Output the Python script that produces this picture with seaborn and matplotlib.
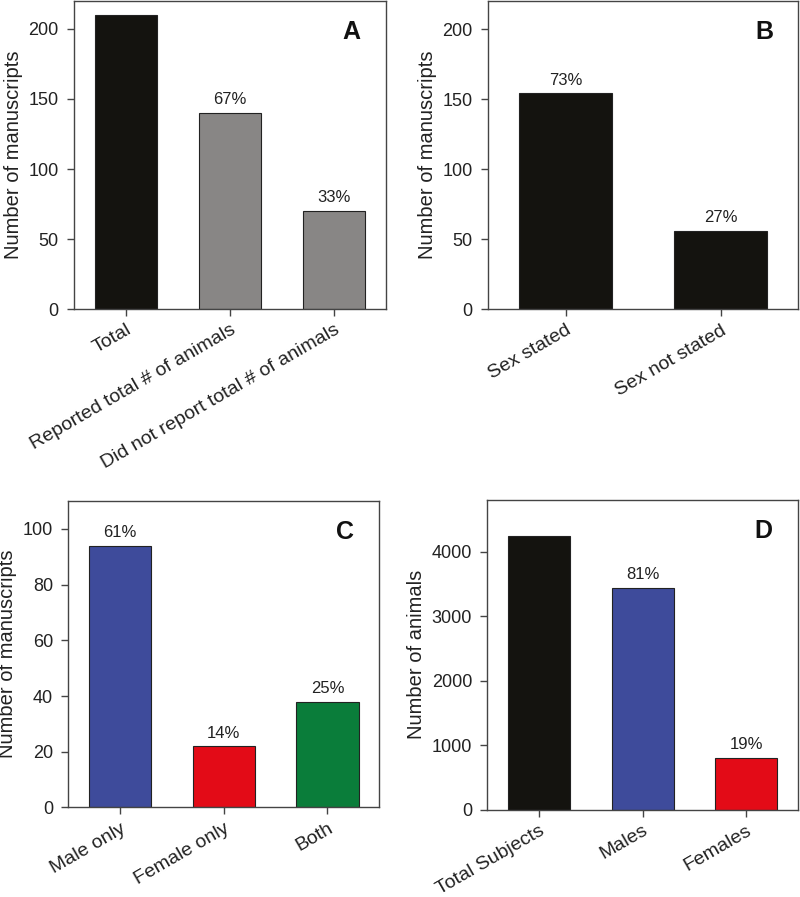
import numpy as np
import pandas as pd
import matplotlib
matplotlib.use("Agg")
import matplotlib.pyplot as plt
import seaborn as sns

sns.set_style("ticks")
plt.rcParams['font.family'] = ['Liberation Sans', 'DejaVu Sans']

# panel A
a_cats = ["Total", "Reported total # of animals", "Did not report total # of animals"]
a_vals = [210, 140, 70]
a_pct = ["", "67%", "33%"]
# panel B
b_cats = ["Sex stated", "Sex not stated"]
b_vals = [154, 56]
b_pct = ["73%", "27%"]
# panel C
c_cats = ["Male only", "Female only", "Both"]
c_vals = [94, 22, 38]
c_pct = ["61%", "14%", "25%"]
# panel D
d_cats = ["Total Subjects", "Males", "Females"]
d_vals = [4250, 3440, 800]
d_pct = ["", "81%", "19%"]

BLACK = "#14130f"
GRAY = "#888685"
BLUE = "#3e4b9b"
RED = "#e30b17"
GREEN = "#0a7d3a"

panels = [
    dict(cats=a_cats, vals=a_vals, pct=a_pct, colors=[BLACK, GRAY, GRAY],
         ylim=220, ticks=[0, 50, 100, 150, 200], ylabel="Number of manuscripts",
         letter="A", pos=[0.0925, 0.6555, 0.39, 0.3434]),
    dict(cats=b_cats, vals=b_vals, pct=b_pct, colors=[BLACK, BLACK],
         ylim=220, ticks=[0, 50, 100, 150, 200], ylabel="Number of manuscripts",
         letter="B", pos=[0.61, 0.6552, 0.3875, 0.3437]),
    dict(cats=c_cats, vals=c_vals, pct=c_pct, colors=[BLUE, RED, GREEN],
         ylim=110, ticks=[0, 20, 40, 60, 80, 100], ylabel="Number of manuscripts",
         letter="C", pos=[0.0856, 0.0998, 0.3885, 0.3417]),
    dict(cats=d_cats, vals=d_vals, pct=d_pct, colors=[BLACK, BLUE, RED],
         ylim=4800, ticks=[0, 1000, 2000, 3000, 4000], ylabel="Number of animals",
         letter="D", pos=[0.6091, 0.0975, 0.3884, 0.345]),
]

fig = plt.figure(figsize=(8, 8.97), dpi=100)

for p in panels:
    ax = fig.add_axes(p["pos"])
    df = pd.DataFrame({"cat": p["cats"], "val": p["vals"]})
    sns.barplot(data=df, x="cat", y="val", hue="cat", palette=p["colors"],
                legend=False, width=0.6, saturation=1, edgecolor="#222222",
                linewidth=0.8, ax=ax)
    labels = p["pct"]
    for i, cont in enumerate(ax.containers):
        ax.bar_label(cont, labels=[labels[i]], padding=4, fontsize=12, color="#222222")
    ax.set_xlim(-0.5, len(p["cats"]) - 0.5)
    ax.set_ylim(0, p["ylim"])
    ax.set_yticks(p["ticks"])
    ax.set_xlabel("")
    ax.set_ylabel(p["ylabel"], fontsize=14.5, color="#222222", labelpad=4)
    ax.set_xticks(range(len(p["cats"])))
    ax.set_xticklabels(p["cats"], rotation=30, ha="right", rotation_mode="anchor",
                       fontsize=14, color="#222222")
    ax.tick_params(axis="y", labelsize=13, labelcolor="#222222", length=5,
                   width=1, color="#444444", pad=6)
    ax.tick_params(axis="x", length=5, width=1, color="#444444", pad=4)
    for s in ax.spines.values():
        s.set_visible(True)
        s.set_color("#444444")
        s.set_linewidth(1)
    ax.text(0.89, 0.9, p["letter"], transform=ax.transAxes, fontsize=18,
            fontweight="bold", ha="center", va="center", color="#111111")

fig.savefig("out.png", dpi=100)
